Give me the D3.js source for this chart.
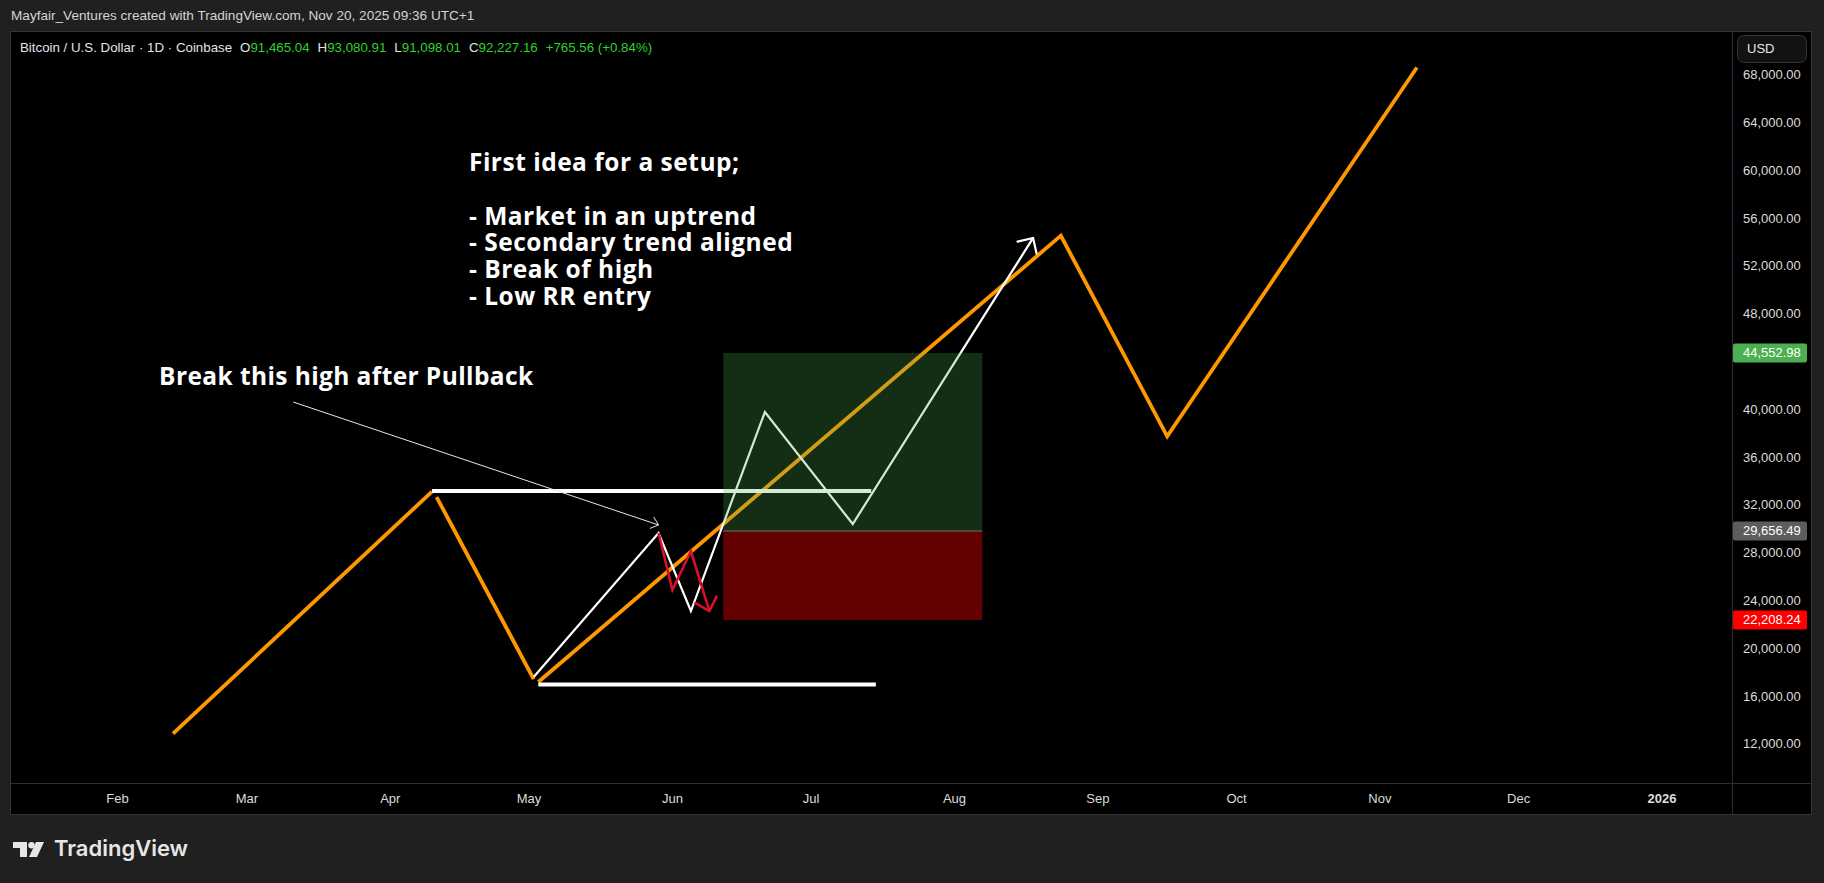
<!DOCTYPE html>
<html><head><meta charset="utf-8">
<script src="https://cdn.jsdelivr.net/npm/d3@7"></script>
<style>html,body{margin:0;padding:0;background:#202020;overflow:hidden}</style>
</head><body>
<svg id="c" width="1824" height="883"></svg>
<script>
// ---------------- data ----------------
const priceTicks = [12000,16000,20000,24000,28000,32000,36000,40000,44000,48000,52000,56000,60000,64000,68000];
const monthTicks = ["2025-02-01","2025-03-01","2025-04-01","2025-05-01","2025-06-01","2025-07-01","2025-08-01","2025-09-01","2025-10-01","2025-11-01","2025-12-01","2026-01-01"];
const monthLabels = ["Feb","Mar","Apr","May","Jun","Jul","Aug","Sep","Oct","Nov","Dec","2026"];

// orange trend legs [date, price]
const orangeLeg1 = [["2025-02-13",12700],["2025-04-10",32950]];
const orangeLeg2 = [["2025-04-11",32500],["2025-05-02",17270]];
const orangeLeg3 = [["2025-05-03",17020],["2025-08-24",54370],["2025-09-16",37580],["2025-11-09",68440]];
// white horizontal levels
const highLevel = [["2025-04-10",33000],["2025-07-14",33000]];
const lowLevel  = [["2025-05-03",16810],["2025-07-15",16810]];
// thin pointer arrow
const pointer = [["2025-03-11",40450],["2025-05-29",30160]];
// white projected path (arrow)
const whitePath = [["2025-05-02",17440],["2025-05-29",29490],["2025-06-05",22960],["2025-06-21",39610],["2025-07-10",30240],["2025-08-18",54180]];
// red failed path (arrow)
const redPath = [["2025-05-29",29490],["2025-06-01",24720],["2025-06-05",27980],["2025-06-09",22960]];
// long position box
const positionDates = ["2025-06-12","2025-08-07"];
const targetPrice = 44552.98, entryPrice = 29656.49, stopPrice = 22208.24;
// annotations [date, price]
const setupAnchor = ["2025-04-18",59780];
const setupLines = ["First idea for a setup;","","- Market in an uptrend","- Secondary trend aligned","- Break of high","- Low RR entry"];
const breakAnchor = ["2025-02-10",41870];
const breakText = "Break this high after Pullback";
// header / legend
const headerText = "Mayfair_Ventures created with TradingView.com, Nov 20, 2025 09:36 UTC+1";
const symbolText = "Bitcoin / U.S. Dollar · 1D · Coinbase";
const ohlcKeys = ["O","H","L","C"];
const ohlcVals = ["91,465.04","93,080.91","91,098.01","92,227.16"];
const changeText = "+765.56 (+0.84%)";

// ---------------- layout ----------------
const W = 1824, H = 883;
const frame = {l:10, t:31, r:1812, b:815};
const plot = {l:10, t:31, r:1732, b:783};
const UI = "'Liberation Sans', Arial, sans-serif";
const ANN = "'Open Sans', 'Noto Sans', sans-serif";

const svg = d3.select("#c");
const P = s => new Date(s + "T00:00:00Z");
const x = d3.scaleUtc().domain([P("2025-02-01"), P("2026-01-01")]).range([117.5, 1662]);
const y = d3.scaleLinear().domain([12000, 68000]).range([742, 72.8]);

svg.append("rect").attr("width",W).attr("height",H).attr("fill","#202020");
svg.append("rect").attr("x",frame.l+0.5).attr("y",frame.t+0.5).attr("width",frame.r-frame.l-1).attr("height",frame.b-frame.t-1)
  .attr("fill","#000").attr("stroke","#353535");

svg.append("clipPath").attr("id","pc").append("rect")
  .attr("x",plot.l+1).attr("y",plot.t+1).attr("width",plot.r-plot.l-1).attr("height",plot.b-plot.t-1);
const g = svg.append("g").attr("clip-path","url(#pc)");

const line = d3.line().x(d=>x(P(d[0]))).y(d=>y(d[1]));

function arrowHead(sel, pts, len, ang, color, width){
  const a = pts[pts.length-2], b = pts[pts.length-1];
  const x1=x(P(a[0])), y1=y(a[1]), x2=x(P(b[0])), y2=y(b[1]);
  const th = Math.atan2(y1-y2, x1-x2);
  const p1 = [x2+len*Math.cos(th+ang), y2+len*Math.sin(th+ang)];
  const p2 = [x2+len*Math.cos(th-ang), y2+len*Math.sin(th-ang)];
  sel.append("path").attr("d",`M${p1}L${x2},${y2}L${p2}`).attr("fill","none")
    .attr("stroke",color).attr("stroke-width",width).attr("stroke-linejoin","miter").attr("stroke-linecap","round");
}

// orange legs
[orangeLeg1, orangeLeg2, orangeLeg3].forEach(leg=>{
  g.append("path").datum(leg).attr("d",line).attr("fill","none").attr("stroke","#ff9800")
    .attr("stroke-width",3.8).attr("stroke-linejoin","miter").attr("stroke-linecap","butt");
});
// white levels
[highLevel, lowLevel].forEach(lv=>{
  g.append("path").datum(lv).attr("d",line).attr("fill","none").attr("stroke","#ffffff")
    .attr("stroke-width",4).attr("stroke-linecap","butt");
});
// pointer
g.append("path").datum(pointer).attr("d",line).attr("fill","none").attr("stroke","#e8e8e8").attr("stroke-width",1);
arrowHead(g, pointer, 9, 0.7, "#e8e8e8", 1);
// white path
g.append("path").datum(whitePath).attr("d",line).attr("fill","none").attr("stroke","#ffffff")
  .attr("stroke-width",2.2).attr("stroke-linejoin","miter");
arrowHead(g, whitePath, 16, 0.78, "#ffffff", 2.2);
// red path
g.append("path").datum(redPath).attr("d",line).attr("fill","none").attr("stroke","#d8102c")
  .attr("stroke-width",2.6).attr("stroke-linejoin","miter");
arrowHead(g, redPath, 16, 0.76, "#d8102c", 2.6);

// position box (drawn over lines, translucent)
const bx0 = x(P(positionDates[0])), bx1 = x(P(positionDates[1]));
g.append("rect").attr("x",bx0).attr("width",bx1-bx0).attr("y",y(targetPrice)).attr("height",y(entryPrice)-y(targetPrice))
  .attr("fill","rgba(76,175,80,0.26)");
g.append("rect").attr("x",bx0).attr("width",bx1-bx0).attr("y",y(entryPrice)).attr("height",y(stopPrice)-y(entryPrice))
  .attr("fill","rgba(255,0,0,0.39)");
g.append("line").attr("x1",bx0).attr("x2",bx1).attr("y1",y(entryPrice)).attr("y2",y(entryPrice))
  .attr("stroke","#6e6e6e").attr("stroke-width",1);

// annotations
const st = g.append("text").attr("font-family",ANN).attr("font-weight",700).attr("font-size",24.5)
  .attr("letter-spacing",0.5).attr("fill","#ffffff");
setupLines.forEach((s,i)=>{
  st.append("tspan").attr("x",x(P(setupAnchor[0]))).attr("y",y(setupAnchor[1]) + i*26.8).text(s || " ");
});
g.append("text").attr("x",x(P(breakAnchor[0]))).attr("y",y(breakAnchor[1]))
  .attr("font-family",ANN).attr("font-weight",700).attr("font-size",24.5).attr("letter-spacing",0.4)
  .attr("fill","#ffffff").text(breakText);

// ---------------- axes ----------------
svg.append("line").attr("x1",plot.r+0.5).attr("x2",plot.r+0.5).attr("y1",frame.t).attr("y2",frame.b).attr("stroke","#2a2e39");
svg.append("line").attr("x1",frame.l).attr("x2",frame.r).attr("y1",plot.b+0.5).attr("y2",plot.b+0.5).attr("stroke","#2a2e39");

const fmtP = d3.format(",.2f");
const tags = [[targetPrice,"#4caf50"],[entryPrice,"#5d5d5d"],[stopPrice,"#ff0000"]];
const ya = svg.append("g").attr("font-family",UI).attr("font-size",13).attr("fill","#dcdcdc");
// tick labels hidden behind a price tag are not drawn (as in the reference)
priceTicks.filter(v => tags.every(([t]) => Math.abs(y(v)-y(t)) > 14)).forEach(v=>{
  ya.append("text").attr("x",1743).attr("y",y(v)+3).attr("dominant-baseline","middle").text(fmtP(v));
});
tags.forEach(([v,c])=>{
  const yy = y(v);
  ya.append("rect").attr("x",1733).attr("y",yy-9.5).attr("width",74).attr("height",19).attr("rx",2).attr("fill",c);
  ya.append("text").attr("x",1743).attr("y",yy+1).attr("dominant-baseline","middle").attr("fill","#ffffff").text(fmtP(v));
});
// USD button
svg.append("rect").attr("x",1737.5).attr("y",35.5).attr("width",69).attr("height",27).attr("rx",6)
  .attr("fill","#121212").attr("stroke","#333333");
svg.append("text").attr("x",1747).attr("y",50).attr("dominant-baseline","middle").attr("font-family",UI)
  .attr("font-size",13).attr("fill","#e6e6e6").text("USD");

const xa = svg.append("g").attr("font-family",UI).attr("font-size",13).attr("fill","#dcdcdc").attr("text-anchor","middle");
monthTicks.forEach((d,i)=>{
  xa.append("text").attr("x",x(P(d))).attr("y",800).attr("dominant-baseline","middle")
    .attr("font-weight", monthLabels[i]==="2026" ? 700 : 400).text(monthLabels[i]);
});

// ---------------- header / legend ----------------
svg.append("text").attr("x",11).attr("y",16).attr("dominant-baseline","middle").attr("font-family",UI)
  .attr("font-size",13.6).attr("fill","#d4d4d4").text(headerText);

const lg = svg.append("text").attr("x",20).attr("y",48).attr("dominant-baseline","middle")
  .attr("font-family",UI).attr("font-size",13.3).attr("fill","#e0e3eb");
lg.append("tspan").text(symbolText);
ohlcKeys.forEach((k,i)=>{
  lg.append("tspan").attr("dx", 8).attr("fill","#e0e3eb").text(k);
  lg.append("tspan").attr("fill","#2fd12f").text(ohlcVals[i]);
});
lg.append("tspan").attr("dx",8).attr("fill","#2fd12f").text(changeText);

// ---------------- logo ----------------
const logo = svg.append("g").attr("fill","#e6e6e6");
logo.append("path").attr("d","M13,842H27V857H20V848H13Z");
logo.append("circle").attr("cx",31.5).attr("cy",845.2).attr("r",3.2);
logo.append("path").attr("d","M36,842H44L37,857H29Z");
svg.append("text").attr("x",54).attr("y",850).attr("dominant-baseline","middle").attr("font-family","Inter, 'Open Sans', sans-serif")
  .attr("font-weight",600).attr("font-size",22).attr("fill","#e6e6e6").text("TradingView");
</script>
</body></html>
